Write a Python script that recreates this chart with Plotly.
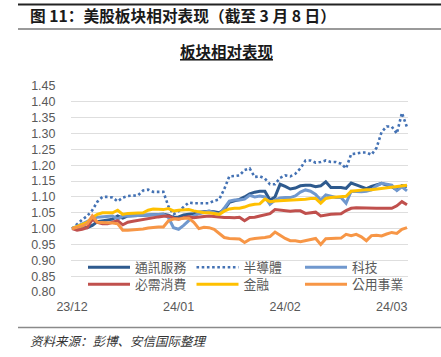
import pandas as pd
import plotly.graph_objects as go

# ---------------- data ----------------
holidays = ["2023-12-25", "2024-01-01", "2024-01-15", "2024-02-19"]
dates = [d.strftime("%Y-%m-%d") for d in pd.bdate_range("2023-12-01", "2024-03-08")
         if d.strftime("%Y-%m-%d") not in holidays]

tick_labels = ["23/12", "24/01", "24/02", "24/03"]
y_ticks = [0.80, 0.85, 0.90, 0.95, 1.00, 1.05, 1.10, 1.15, 1.20, 1.25, 1.30, 1.35, 1.40, 1.45]

comm_services = [1.000, 1.003, 1.005, 1.003, 1.010, 1.022, 1.025, 1.027, 1.030, 1.040,
                 1.033, 1.040, 1.040, 1.042, 1.042, 1.043, 1.044, 1.045, 1.045, 1.042,
                 1.035, 1.037, 1.043, 1.045, 1.047, 1.052, 1.054, 1.055, 1.053, 1.050,
                 1.060, 1.083, 1.088, 1.092, 1.100, 1.110, 1.115, 1.118, 1.118, 1.090,
                 1.100, 1.140, 1.133, 1.125, 1.128, 1.135, 1.137, 1.137, 1.132, 1.135,
                 1.148, 1.130, 1.130, 1.130, 1.127, 1.144, 1.138, 1.132, 1.126, 1.133,
                 1.138, 1.143, 1.137, 1.132, 1.122, 1.136, 1.133]

semiconductors = [1.000, 1.015, 1.028, 1.040, 1.058, 1.085, 1.100, 1.100, 1.098, 1.086,
                  1.098, 1.103, 1.103, 1.105, 1.120, 1.123, 1.116, 1.116, 1.116, 1.070,
                  1.045, 1.055, 1.068, 1.082, 1.080, 1.080, 1.078, 1.080, 1.088, 1.092,
                  1.125, 1.165, 1.166, 1.168, 1.185, 1.190, 1.163, 1.165, 1.158, 1.140,
                  1.140, 1.160, 1.168, 1.165, 1.173, 1.190, 1.215, 1.215, 1.208, 1.210,
                  1.215, 1.210, 1.210, 1.205, 1.190, 1.235, 1.237, 1.240, 1.240, 1.233,
                  1.255, 1.305, 1.322, 1.322, 1.300, 1.365, 1.320]

technology = [1.000, 1.008, 1.015, 1.022, 1.030, 1.036, 1.037, 1.038, 1.040, 1.030,
              1.040, 1.040, 1.040, 1.040, 1.042, 1.043, 1.044, 1.045, 1.045, 1.035,
              1.003, 0.998, 1.010, 1.025, 1.040, 1.047, 1.052, 1.055, 1.050, 1.045,
              1.065, 1.087, 1.090, 1.090, 1.093, 1.105, 1.100, 1.103, 1.100, 1.077,
              1.090, 1.097, 1.098, 1.098, 1.103, 1.115, 1.122, 1.118, 1.108, 1.090,
              1.106, 1.102, 1.098, 1.098, 1.080, 1.118, 1.116, 1.116, 1.118, 1.122,
              1.135, 1.143, 1.140, 1.137, 1.120, 1.132, 1.119]

staples = [1.000, 0.995, 0.998, 1.003, 1.030, 1.020, 1.015, 1.015, 1.020, 1.025,
           1.012, 1.020, 1.023, 1.026, 1.028, 1.033, 1.035, 1.037, 1.039, 1.040,
           1.033, 1.030, 1.034, 1.037, 1.034, 1.037, 1.038, 1.040, 1.038, 1.036,
           1.035, 1.035, 1.034, 1.036, 1.025, 1.035, 1.036, 1.040, 1.043, 1.047,
           1.060, 1.058, 1.056, 1.055, 1.056, 1.056, 1.048, 1.049, 1.052, 1.040,
           1.043, 1.045, 1.046, 1.047, 1.057, 1.064, 1.066, 1.065, 1.064, 1.064,
           1.064, 1.064, 1.064, 1.064, 1.072, 1.085, 1.075]

financials = [1.000, 1.007, 1.013, 1.020, 1.035, 1.045, 1.050, 1.050, 1.050, 1.058,
              1.045, 1.048, 1.048, 1.049, 1.050, 1.058, 1.062, 1.061, 1.060, 1.063,
              1.056, 1.058, 1.060, 1.060, 1.056, 1.053, 1.050, 1.050, 1.047, 1.045,
              1.055, 1.062, 1.064, 1.064, 1.068, 1.074, 1.077, 1.078, 1.093, 1.085,
              1.087, 1.088, 1.088, 1.088, 1.090, 1.091, 1.093, 1.095, 1.095, 1.080,
              1.095, 1.098, 1.099, 1.100, 1.102, 1.118, 1.120, 1.121, 1.123, 1.123,
              1.125, 1.127, 1.129, 1.130, 1.132, 1.135, 1.137]

utilities = [1.000, 1.004, 1.008, 1.015, 1.040, 1.020, 1.020, 1.020, 1.018, 1.015,
             0.995, 0.995, 0.996, 0.997, 0.999, 1.002, 1.004, 1.005, 1.005, 1.025,
             1.030, 1.030, 1.033, 1.033, 1.020, 1.000, 1.004, 1.003, 0.998, 0.985,
             0.972, 0.969, 0.968, 0.967, 0.956, 0.966, 0.969, 0.970, 0.972, 0.975,
             0.989, 0.979, 0.969, 0.962, 0.962, 0.959, 0.963, 0.966, 0.969, 0.950,
             0.968, 0.969, 0.969, 0.970, 0.982, 0.978, 0.982, 0.974, 0.962, 0.978,
             0.979, 0.977, 0.983, 0.988, 0.985, 0.998, 1.003]

series_names = ["通訊服務", "半導體", "科技", "必需消費", "金融", "公用事業"]
series_values = [comm_services, semiconductors, technology, staples, financials, utilities]

# ---------------- style ----------------
colors = ["#2E5A8E", "#4472B4", "#7098CE", "#C0504D", "#FFC000", "#F79646"]
dashes = ["solid", "2.6px,2.6px", "solid", "solid", "solid", "solid"]
widths = [3, 2.6, 3, 3, 3, 3]
legend_ids = ["legend", "legend", "legend", "legend2", "legend2", "legend2"]

W, H = 441, 357
ML, MR, MT, MB = 71, 33, 86, 65
PW, PH = W - ML - MR, H - MT - MB


def px(x, y):
    return (x - ML) / PW, (H - MB - y) / PH


fig = go.Figure()
for name, vals, c, d, w, lg in zip(series_names, series_values, colors, dashes, widths, legend_ids):
    fig.add_trace(go.Scatter(x=dates, y=vals, name=name, mode="lines", legend=lg,
                             line=dict(color=c, width=w, dash=d)))

tickvals = [dates[i] for i in range(0, len(dates), 21)]

legend_common = dict(orientation="h", xanchor="left", yanchor="middle",
                     bgcolor="rgba(0,0,0,0)", borderwidth=0, entrywidth=51.5, itemwidth=42,
                     font=dict(family="Liberation Sans, Noto Sans CJK TC", size=12.8,
                               color="#595959"),
                     tracegroupgap=0)

fig.update_layout(
    width=W, height=H,
    margin=dict(l=ML, r=MR, t=MT, b=MB),
    paper_bgcolor="white", plot_bgcolor="white",
    font=dict(family="Liberation Sans, Arial", color="#595959", size=12.5),
    showlegend=True,
    legend=dict(x=px(83, 0)[0], y=px(0, 267.5)[1], **legend_common),
    legend2=dict(x=px(83, 0)[0], y=px(0, 284.5)[1], **legend_common),
    xaxis=dict(type="category", range=[-0.2, len(dates) - 0.8], tickmode="array",
               tickvals=tickvals, ticktext=tick_labels, showgrid=False, zeroline=False,
               showline=False, ticks="outside", ticklen=3, tickcolor="rgba(0,0,0,0)"),
    yaxis=dict(range=[0.80, 1.45], tickmode="array", tickvals=y_ticks,
               ticktext=[f"{v:.2f}" for v in y_ticks], showgrid=True,
               gridcolor="#DEDEDE", gridwidth=1.3, zeroline=False, showline=False,
               ticks="outside", ticklen=12, tickcolor="rgba(0,0,0,0)"),
)

# header / footer
for (x0, x1, y, col, lw) in [(18, 441, 4.5, "#222222", 2), (18, 441, 29, "#9A9A9A", 2),
                             (18, 441, 327.5, "#8A8A8A", 1.5)]:
    a0 = px(x0, y)
    a1 = px(x1, y)
    fig.add_shape(type="line", xref="paper", yref="paper", x0=a0[0], x1=a1[0], y0=a0[1], y1=a1[1],
                  line=dict(color=col, width=lw))

tx, ty = px(28, 16)
fig.add_annotation(xref="paper", yref="paper", x=tx, y=ty, xanchor="left", yanchor="middle",
                   text="<b>图 11：美股板块相对表现（截至 3 月 8 日）</b>", showarrow=False,
                   font=dict(family="Noto Sans CJK SC", size=15.7, color="#1a1a1a"))
sx, sy = px(227, 51)
fig.add_annotation(xref="paper", yref="paper", x=sx, y=sy, xanchor="center", yanchor="middle",
                   text="<b><u>板块相对表现</u></b>", showarrow=False,
                   font=dict(family="Noto Sans CJK SC", size=15.5, color="#1a1a1a"))
fx, fy = px(28, 340)
fig.add_annotation(xref="paper", yref="paper", x=fx, y=fy, xanchor="left", yanchor="middle",
                   text="<i>资料来源：彭博、安信国际整理</i>", showarrow=False,
                   font=dict(family="Noto Sans CJK SC", size=12.5, color="#333333"))

fig.write_html("out.html", post_script="document.body.style.margin='0px';",
               config={"displayModeBar": False})
